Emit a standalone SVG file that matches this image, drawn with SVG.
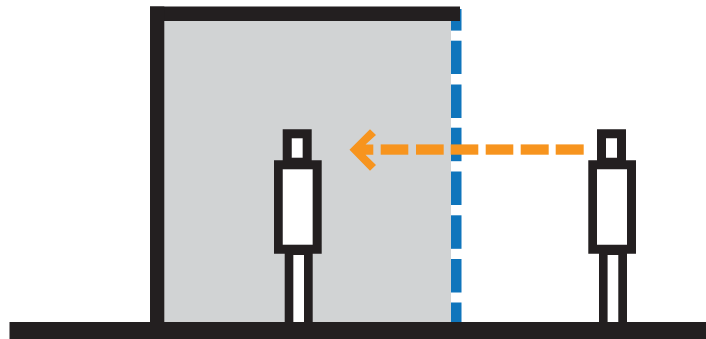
<svg xmlns="http://www.w3.org/2000/svg" width="706" height="339" viewBox="0 0 706 339">
<style>
.k{fill:#231f20}
.w{fill:#fff}
.g{fill:#d1d3d4}
.b{fill:#0f75bc}
.o{fill:#f7941e}
</style>
<defs>
<g id="person">
<path class="w" d="M17.7 -21.7H28.7V-2.3H17.7ZM8.7 9.3H38.7V84.7H8.7ZM19.3 93H30V162H19.3Z"/>
<path class="k" fill-rule="evenodd" d="M8.7 -30.7H37.7V0.3H47.7V93.7H38.7V162H30V95H19.3V162H10.7V93.7H0V0.3H8.7ZM17.7 -21.7V-2.3H28.7V-21.7ZM8.7 9.3V84.7H38.7V9.3Z"/>
</g>
</defs>
<rect class="w" width="706" height="339"/>
<g id="room">
<rect class="g" x="164" y="21" width="287" height="301"/>
</g>
<g id="glass">
<rect class="b" x="451" y="9" width="10.5" height="21.6"/>
<rect class="b" x="451" y="40.7" width="10.5" height="33.3"/>
<rect class="b" x="451" y="84.5" width="10.5" height="33.5"/>
<rect class="b" x="451" y="127.7" width="10.5" height="33.5"/>
<rect class="b" x="451" y="171.5" width="10.5" height="33.5"/>
<rect class="b" x="451" y="215.3" width="10.5" height="33.5"/>
<rect class="b" x="451" y="259" width="10.5" height="33.5"/>
<rect class="b" x="451" y="302.5" width="10.5" height="20"/>
</g>
<g id="walls">
<rect class="k" x="150" y="6.5" width="310" height="14.5"/>
<rect class="k" x="150" y="6.5" width="14.3" height="316"/>
</g>
<g id="ground">
<rect class="k" x="9.5" y="322" width="696.5" height="17"/>
</g>
<g id="person-inside"><use href="#person" x="274" y="160"/></g>
<g id="person-outside"><use href="#person" x="588.3" y="160"/></g>
<g id="connectors">
<path class="o" d="M349.5 149.7L370 129.3L376 135L365.5 144.5H373.3V154.7H365.5L376 165L370 170.7Z"/>
<rect class="o" x="380.7" y="144.4" width="27.6" height="10.3"/>
<rect class="o" x="416" y="144.4" width="27.7" height="10.3"/>
<rect class="o" x="450.7" y="144.4" width="27.6" height="10.3"/>
<rect class="o" x="485.7" y="144.4" width="27.6" height="10.3"/>
<rect class="o" x="520.7" y="144.4" width="28" height="10.3"/>
<rect class="o" x="555.7" y="144.4" width="28" height="10.3"/>
</g>
</svg>
